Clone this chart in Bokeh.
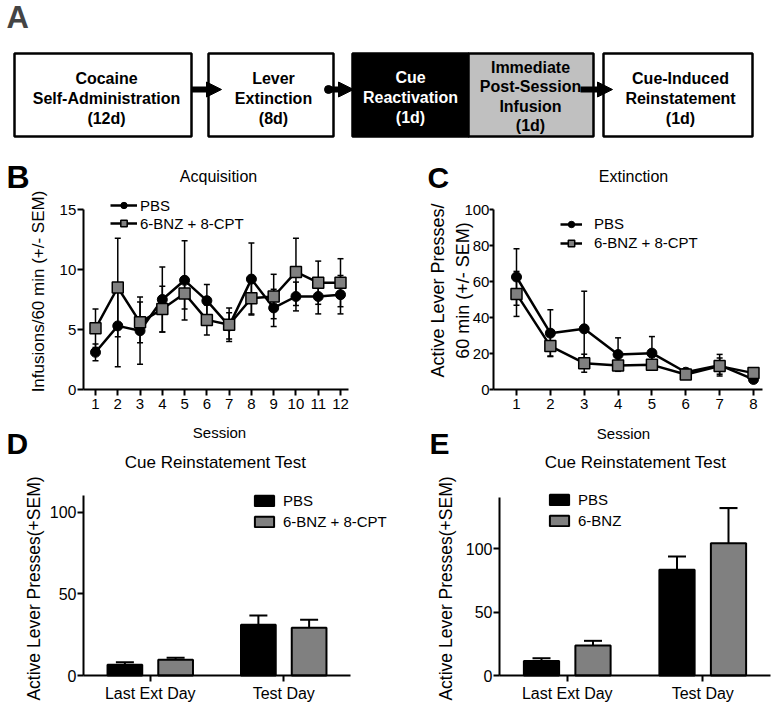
import math
from bokeh.plotting import figure
from bokeh.models import (Range1d, FixedTicker, Whisker, TeeHead, Legend, LegendItem,
                          ColumnDataSource, Label, Arrow, NormalHead, LinearAxis)
from bokeh.layouts import column, row
from bokeh.transform import dodge
from bokeh.core.properties import value
from bokeh.embed import file_html
from bokeh.resources import INLINE

FONT = "Liberation Sans"
GRAY = "#808080"

# ---------------- data ----------------
# Panel A: protocol stages
stage_labels = ["Cocaine\nSelf-Administration\n(12d)", "Lever\nExtinction\n(8d)",
                "Cue\nReactivation\n(1d)", "Immediate\nPost-Session\nInfusion\n(1d)",
                "Cue-Induced\nReinstatement\n(1d)"]

# Panel B: acquisition
sessions_acq = [1, 2, 3, 4, 5, 6, 7, 8, 9, 10, 11, 12]
pbs_acq = [3.1, 5.3, 4.9, 7.5, 9.1, 7.4, 5.3, 9.2, 6.8, 7.75, 7.75, 7.9]
pbs_acq_sem = [0.7, 3.4, 2.8, 2.7, 3.3, 1.35, 1.1, 3.0, 1.55, 1.2, 1.45, 1.6]
combo_acq = [5.1, 8.5, 5.6, 6.7, 8.0, 5.8, 5.4, 7.6, 7.75, 9.8, 8.9, 8.9]
combo_acq_sem = [1.6, 4.1, 1.7, 1.9, 1.3, 1.25, 1.4, 1.3, 1.85, 2.8, 1.8, 2.0]
acq_yticks = [0, 5, 10, 15]

# Panel C: extinction
sessions_ext = [1, 2, 3, 4, 5, 6, 7, 8]
pbs_ext = [62.5, 31.3, 33.7, 19.4, 20.2, 9.6, 13.5, 5.6]
pbs_ext_sem = [15.7, 13.0, 20.9, 9.3, 9.2, 2.0, 6.0, 1.5]
combo_ext = [53.1, 24.1, 14.6, 13.3, 13.7, 8.3, 13.0, 9.1]
combo_ext_sem = [12.5, 5.5, 5.0, 2.0, 2.0, 1.5, 4.5, 1.5]
ext_yticks = [0, 20, 40, 60, 80, 100]

# Panels D / E: cue reinstatement test
groups = ["Last Ext Day", "Test Day"]
pbs_d = [6.5, 31.0]
pbs_d_sem = [1.6, 5.7]
combo_d = [9.6, 29.2]
combo_d_sem = [1.2, 4.9]
pbs_e = [11.5, 83.2]
pbs_e_sem = [2.1, 10.5]
bnz_e = [23.6, 104.2]
bnz_e_sem = [3.7, 27.6]
bar_yticks = [0, 50, 100]

# ---------------- layout helpers ----------------
def span(lo_px, hi_px, a_px, a_val, b_px, b_val):
    k = (b_val - a_val) / (b_px - a_px)
    return a_val + (lo_px - a_px) * k, a_val + (hi_px - a_px) * k


class Panel:
    def __init__(self, box, xmap, ymap):
        self.x0, self.y0, self.x1, self.y1 = box
        xr = span(self.x0, self.x1, *xmap)
        yr = span(self.y1, self.y0, *ymap)
        p = figure(width=self.x1 - self.x0, height=self.y1 - self.y0,
                   x_range=Range1d(*xr), y_range=Range1d(*yr), output_backend="svg",
                   toolbar_location=None, x_axis_location=None, y_axis_location=None,
                   min_border=0)
        p.outline_line_color = None
        p.background_fill_color = "white"
        p.border_fill_color = "white"
        p.xgrid.visible = False
        p.ygrid.visible = False
        self.p = p

    def sx(self, px):
        return px - self.x0

    def sy(self, py):
        return self.y1 - py

    def text(self, px, py, txt, size, bold=False, align="center", angle=0.0,
             line_height=1.2):
        self.p.add_layout(Label(x=self.sx(px), y=self.sy(py), x_units="screen",
                                y_units="screen", text=txt, text_font=FONT,
                                text_font_size=size,
                                text_font_style="bold" if bold else "normal",
                                text_align=align, text_baseline="middle", angle=angle,
                                text_color="black", text_line_height=line_height))

    def letter(self, px, py, txt, size="30px"):
        self.text(px, py, txt, size, bold=True, align="left")

    def axes(self, xbounds, ybounds, xticks, yticks, tick_size, overrides=None,
             ytick_out=6, ystandoff=1):
        xa = LinearAxis(fixed_location=ybounds[0], bounds=xbounds,
                        ticker=FixedTicker(ticks=xticks))
        ya = LinearAxis(fixed_location=xbounds[0], bounds=ybounds,
                        ticker=FixedTicker(ticks=yticks))
        if overrides:
            xa.major_label_overrides = overrides
        for ax in (xa, ya):
            ax.axis_line_width = 2
            ax.axis_line_color = "black"
            ax.major_tick_line_width = 2
            ax.major_tick_line_color = "black"
            ax.major_tick_in = 0
            ax.major_tick_out = 6
            ax.minor_tick_line_color = None
            ax.major_label_text_font = FONT
            ax.major_label_text_font_size = tick_size
            ax.major_label_text_color = "black"
        xa.major_label_standoff = 3
        ya.major_tick_out = ytick_out
        ya.major_label_standoff = ystandoff
        self.p.add_layout(xa, "below")
        self.p.add_layout(ya, "left")

    def legend(self, items, px_left, py_bottom, gw, gh, standoff, spacing, lab_h):
        self.p.add_layout(Legend(items=items, location=(self.sx(px_left), self.sy(py_bottom)),
                                 glyph_width=gw, glyph_height=gh, label_standoff=standoff,
                                 spacing=spacing, padding=0, margin=0, label_height=lab_h,
                                 label_text_font=FONT, label_text_font_size="15px",
                                 label_text_color="black", border_line_color=None,
                                 background_fill_alpha=0))


def err_source(xs, ys, sems):
    return ColumnDataSource(dict(x=xs, y=ys,
                                 lo=[a - b for a, b in zip(ys, sems)],
                                 hi=[a + b for a, b in zip(ys, sems)]))


def line_series(pan, xs, a, a_sem, b, b_sem):
    p = pan.p
    s1 = err_source(xs, a, a_sem)
    s2 = err_source(xs, b, b_sem)
    for s in (s1, s2):
        p.add_layout(Whisker(base="x", lower="lo", upper="hi", source=s, line_width=1.5,
                             line_color="black",
                             lower_head=TeeHead(size=6, line_width=1.5, line_color="black"),
                             upper_head=TeeHead(size=6, line_width=1.5, line_color="black")))
    l1 = p.line("x", "y", source=s1, line_width=2.5, color="black")
    m1 = p.scatter("x", "y", source=s1, marker="circle", size=10, color="black")
    l2 = p.line("x", "y", source=s2, line_width=2.5, color="black")
    m2 = p.scatter("x", "y", source=s2, marker="square", size=11, fill_color=GRAY,
                   line_color="black", line_width=1.5)
    return [LegendItem(label="PBS", renderers=[l1, m1]),
            LegendItem(label="6-BNZ + 8-CPT", renderers=[l2, m2])]


def bar_series(pan, a, a_sem, b, b_sem, name_a, name_b):
    p = pan.p
    xs = [i + 0.5 for i in range(len(groups))]
    src = ColumnDataSource(dict(x=xs, a=a, b=b,
                                a_hi=[v + e for v, e in zip(a, a_sem)],
                                b_hi=[v + e for v, e in zip(b, b_sem)]))
    r1 = p.vbar(x=dodge("x", -0.19), top="a", width=0.26, source=src,
                fill_color="black", line_color="black", line_width=2)
    r2 = p.vbar(x=dodge("x", 0.19), top="b", width=0.26, source=src,
                fill_color=GRAY, line_color="black", line_width=2)
    for off, lo, hi in [(-0.19, "a", "a_hi"), (0.19, "b", "b_hi")]:
        p.add_layout(Whisker(base=dodge("x", off), lower=lo, upper=hi, source=src,
                             line_width=2, line_color="black", lower_head=None,
                             upper_head=TeeHead(size=18, line_width=2, line_color="black")))
    return xs, [LegendItem(label=name_a, renderers=[r1]),
                LegendItem(label=name_b, renderers=[r2])]

# ---------------- panel A (schematic) ----------------
pa = figure(width=774, height=150, x_range=Range1d(0, 774), y_range=Range1d(150, 0),
            output_backend="svg", toolbar_location=None, x_axis_location=None,
            y_axis_location=None, min_border=0)
pa.outline_line_color = None
pa.xgrid.visible = False
pa.ygrid.visible = False
stage_left = [14, 208, 352, 468, 603]
stage_right = [191, 333, 468, 593, 752]
stage_fill = ["white", "white", "black", "#C0C0C0", "white"]
stage_tcol = ["black", "black", "white", "black", "black"]
stage_tx = [106, 273, 410, 530, 680]
stage_ty = [98, 98, 97, 96, 98]
src_a = ColumnDataSource(dict(left=stage_left, right=stage_right, top=[53] * 5,
                              bottom=[136] * 5, fill=stage_fill, tcol=stage_tcol,
                              tx=stage_tx, ty=stage_ty, label=stage_labels))
pa.quad(left="left", right="right", top="top", bottom="bottom", fill_color="fill",
        line_color="black", line_width=2.5, source=src_a)
pa.text(x="tx", y="ty", text="label", source=src_a, text_color="tcol",
        text_font=value(FONT), text_font_size="16px", text_font_style="bold",
        text_align="center", text_baseline="middle", text_line_height=1.15)
for xs_, xe_ in [(191, 221), (328, 353), (580, 612)]:
    pa.add_layout(Arrow(x_start=xs_, y_start=89, x_end=xe_, y_end=89, line_width=6,
                        line_color="black",
                        end=NormalHead(size=15, fill_color="black", line_color="black")))
pa.scatter(x=[328], y=[89], size=8, color="black")
pa.add_layout(Label(x=6, y=17, text="A", text_font=FONT, text_font_size="31px",
                    text_font_style="bold", text_baseline="middle"))

# ---------------- panel B (+ header of D) ----------------
B = Panel((0, 150, 390, 476), (95, 1, 340, 12), (389, 0, 209, 15))
B.axes((0.45, 12.35), (0, 15), sessions_acq, acq_yticks, "15px")
items = line_series(B, sessions_acq, pbs_acq, pbs_acq_sem, combo_acq, combo_acq_sem)
B.legend(items, 110, 231.5, 27, 16, 3, 1, 16)
B.text(218, 176, "Acquisition", "16px")
B.text(219, 432, "Session", "15px")
B.text(38, 291, "Infusions/60 min (+/- SEM)", "17px", angle=math.pi / 2)
B.letter(6, 176, "B", "32px")
B.letter(6, 443, "D")
B.text(215, 462, "Cue Reinstatement Test", "17px")

# ---------------- panel C (+ header of E) ----------------
C = Panel((390, 150, 774, 476), (516, 1, 753, 8), (389, 0, 209, 100))
C.axes((0.32, 8.27), (0, 100), sessions_ext, ext_yticks, "15px", ytick_out=4, ystandoff=0)
items = line_series(C, sessions_ext, pbs_ext, pbs_ext_sem, combo_ext, combo_ext_sem)
C.legend(items, 560, 251, 22, 16, 12, 2, 16)
C.text(633, 176, "Extinction", "16px")
C.text(623, 433, "Session", "15px")
C.text(450, 290, "Active Lever Presses/\n60 min (+/- SEM)", "18px", angle=math.pi / 2,
       line_height=1.25)
C.letter(427, 177, "C")
C.letter(429, 443, "E")
C.text(635, 462, "Cue Reinstatement Test", "17px")

# ---------------- panel D ----------------
D = Panel((0, 476, 390, 704), (83, 0, 350, 2), (675, 0, 511.5, 100))
xs, items = bar_series(D, pbs_d, pbs_d_sem, combo_d, combo_d_sem, "PBS", "6-BNZ + 8-CPT")
D.axes((0, 2), (0, 110), xs, bar_yticks, "16px",
       overrides={x: g for x, g in zip(xs, groups)})
D.legend(items, 252, 530.5, 24, 13, 7, 3, 18)
D.text(33, 588, "Active Lever Presses(+SEM)", "17.5px", angle=math.pi / 2)

# ---------------- panel E ----------------
E = Panel((390, 476, 774, 704), (499, 0, 770, 2), (675, 0, 548, 100))
xs, items = bar_series(E, pbs_e, pbs_e_sem, bnz_e, bnz_e_sem, "PBS", "6-BNZ")
E.axes((0, 2), (0, 140), xs, bar_yticks, "16px",
       overrides={x: g for x, g in zip(xs, groups)})
E.legend(items, 547, 529, 24, 13, 7, 3, 18)
E.text(445, 588, "Active Lever Presses(+SEM)", "17.5px", angle=math.pi / 2)

layout = column(pa, row(B.p, C.p), row(D.p, E.p))
open("out.html", "w").write(file_html(layout, INLINE))
